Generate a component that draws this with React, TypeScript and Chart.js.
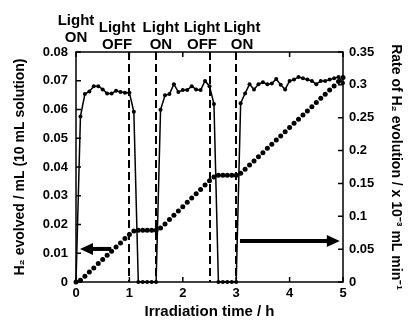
import { useEffect, useRef } from 'react';
import { Chart, registerables } from 'chart.js';

Chart.register(...registerables);

// Irradiation time, minutes
const timeMin = [
  0, 5, 10, 15, 20, 25, 30, 35, 40, 45, 50, 55, 60, 65, 70, 75, 80, 85, 90, 95,
  100, 105, 110, 115, 120, 125, 130, 135, 140, 145, 150, 155, 160, 165, 170, 175, 180, 185, 190, 195,
  200, 205, 210, 215, 220, 225, 230, 235, 240, 245, 250, 255, 260, 265, 270, 275, 280, 285, 290, 295, 300,
];

// Rate of H2 evolution / x10^-3 mL min^-1 (right axis)
const rateValues = [
  0, 0.252, 0.286, 0.29, 0.298, 0.298, 0.293, 0.287, 0.287, 0.291, 0.289, 0.288, 0.288, 0.259,
  0, 0, 0, 0, 0,
  0.262, 0.284, 0.286, 0.301, 0.289, 0.292, 0.292, 0.298, 0.293, 0.292, 0.306, 0.298, 0.271,
  0, 0, 0, 0, 0,
  0.272, 0.287, 0.301, 0.293, 0.301, 0.304, 0.301, 0.302, 0.309, 0.3, 0.293, 0.306, 0.308, 0.312,
  0.31, 0.308, 0.306, 0.301, 0.306, 0.306, 0.308, 0.31, 0.312, 0.303,
];

// H2 evolved / mL (left axis)
const evolvedValues = [
  0, 0.0006, 0.002, 0.0035, 0.0049, 0.0064, 0.0078, 0.0093, 0.0107, 0.0122, 0.0136, 0.0151, 0.0165, 0.0177,
  0.018, 0.018, 0.018, 0.018, 0.018,
  0.0188, 0.0202, 0.0217, 0.0232, 0.0247, 0.0262, 0.0277, 0.0292, 0.0307, 0.0322, 0.0337, 0.0352, 0.0365,
  0.0371, 0.0371, 0.0371, 0.0371, 0.0371,
  0.0378, 0.0392, 0.0407, 0.0421, 0.0436, 0.045, 0.0465, 0.0479, 0.0494, 0.0508, 0.0523, 0.0537, 0.0552, 0.0566,
  0.0581, 0.0595, 0.061, 0.0624, 0.0639, 0.0653, 0.0668, 0.0682, 0.0697, 0.0711,
];

const switchTimes = [1, 1.5, 2.5, 3];
const xTicks = [0, 1, 2, 3, 4, 5];
const leftTicks = [0, 0.01, 0.02, 0.03, 0.04, 0.05, 0.06, 0.07, 0.08];
const rightTicks = [0, 0.05, 0.1, 0.15, 0.2, 0.25, 0.3, 0.35];
const lightLabels = [
  ['Light', 'ON'],
  ['Light', 'OFF'],
  ['Light', 'ON'],
  ['Light', 'OFF'],
  ['Light', 'ON'],
];
const lightLabelTimes = [0, 0.77, 1.59, 2.36, 3.11];
// arrows: [tail time, tip time, left-axis value]
const leftArrow = [0.66, 0.075, 0.0115];
const rightArrow = [3.07, 4.94, 0.0143];

const FAMILY = 'Arial, "Liberation Sans", Helvetica, sans-serif';

function drawArrow(ctx: CanvasRenderingContext2D, x1: number, x2: number, y: number) {
  const dir = x2 > x1 ? 1 : -1;
  const headLen = 13;
  const half = 6;
  ctx.save();
  ctx.strokeStyle = '#000';
  ctx.fillStyle = '#000';
  ctx.lineWidth = 4;
  ctx.setLineDash([]);
  ctx.beginPath();
  ctx.moveTo(x1, y);
  ctx.lineTo(x2 - dir * (headLen - 1), y);
  ctx.stroke();
  ctx.beginPath();
  ctx.moveTo(x2, y);
  ctx.lineTo(x2 - dir * headLen, y - half);
  ctx.lineTo(x2 - dir * headLen, y + half);
  ctx.closePath();
  ctx.fill();
  ctx.restore();
}

const decor = {
  id: 'decor',
  beforeDatasetsDraw(chart: any) {
    const ctx = chart.ctx as CanvasRenderingContext2D;
    const { top, bottom } = chart.chartArea;
    const xs = chart.scales.x;
    ctx.save();
    ctx.strokeStyle = '#000';
    ctx.lineWidth = 2;
    ctx.setLineDash([8, 4]);
    ctx.beginPath();
    switchTimes.forEach((t) => {
      const x = Math.round(xs.getPixelForValue(t));
      ctx.moveTo(x, top);
      ctx.lineTo(x, bottom);
    });
    ctx.stroke();
    ctx.restore();
  },
  afterDraw(chart: any) {
    const ctx = chart.ctx as CanvasRenderingContext2D;
    const { left, right, top, bottom } = chart.chartArea;
    const xs = chart.scales.x;
    const yl = chart.scales.y;
    const yr = chart.scales.y1;
    ctx.save();
    ctx.strokeStyle = '#000';
    ctx.lineWidth = 1.5;
    ctx.setLineDash([]);
    ctx.strokeRect(left, top, right - left, bottom - top);
    ctx.beginPath();
    leftTicks.forEach((v) => {
      const y = yl.getPixelForValue(v);
      ctx.moveTo(left, y);
      ctx.lineTo(left + 5, y);
    });
    rightTicks.forEach((v) => {
      const y = yr.getPixelForValue(v);
      ctx.moveTo(right, y);
      ctx.lineTo(right - 5, y);
    });
    xTicks.forEach((v) => {
      const x = xs.getPixelForValue(v);
      ctx.moveTo(x, bottom);
      ctx.lineTo(x, bottom - 5);
      ctx.moveTo(x, top);
      ctx.lineTo(x, top + 5);
    });
    ctx.stroke();

    drawArrow(ctx, xs.getPixelForValue(leftArrow[0]), xs.getPixelForValue(leftArrow[1]), yl.getPixelForValue(leftArrow[2]));
    drawArrow(ctx, xs.getPixelForValue(rightArrow[0]), xs.getPixelForValue(rightArrow[1]), yl.getPixelForValue(rightArrow[2]));

    ctx.fillStyle = '#000';
    ctx.font = 'bold 15px ' + FAMILY;
    ctx.textAlign = 'center';
    ctx.textBaseline = 'alphabetic';
    lightLabels.forEach((lines, i) => {
      const x = xs.getPixelForValue(lightLabelTimes[i]);
      const base = i === 0 ? top - 27 : top - 20.5;
      ctx.fillText(lines[0], x, base);
      ctx.fillText(lines[1], x, base + 17);
    });
    ctx.restore();
  },
};

export default function App() {
  const ref = useRef<HTMLCanvasElement>(null);
  useEffect(() => {
    document.body.style.margin = '0';
    const canvas = ref.current;
    if (!canvas) return;
    const tickFont = { family: FAMILY, size: 13, weight: 'bold' as const };
    const titleFont = { family: FAMILY, size: 14, weight: 'bold' as const };
    const chart = new Chart(canvas, {
      type: 'line',
      data: {
        datasets: [
          {
            label: 'Rate of H2 evolution',
            data: timeMin.map((m, i) => ({ x: m / 60, y: rateValues[i] })),
            yAxisID: 'y1',
            borderColor: '#000',
            backgroundColor: '#000',
            borderWidth: 1.5,
            pointRadius: 2,
            pointBorderWidth: 0,
            pointBackgroundColor: '#000',
            tension: 0,
            clip: false as any,
          },
          {
            label: 'H2 evolved',
            data: timeMin.map((m, i) => ({ x: m / 60, y: evolvedValues[i] })),
            yAxisID: 'y',
            showLine: false,
            borderColor: '#000',
            backgroundColor: '#000',
            pointRadius: 2.5,
            pointBorderWidth: 0,
            pointBackgroundColor: '#000',
            clip: false as any,
          },
        ],
      },
      options: {
        animation: false,
        responsive: false,
        maintainAspectRatio: false,
        layout: { padding: { top: 52, left: 0, right: 0, bottom: 0 } },
        plugins: { legend: { display: false }, tooltip: { enabled: false } },
        scales: {
          x: {
            type: 'linear',
            position: 'bottom',
            min: 0,
            max: 5,
            afterBuildTicks: (s: any) => {
              s.ticks = xTicks.map((v) => ({ value: v }));
            },
            afterFit: (s: any) => {
              s.height = 39;
            },
            grid: { display: false, drawTicks: false },
            border: { display: false },
            ticks: {
              font: tickFont,
              color: '#000',
              padding: 4,
              maxRotation: 0,
              autoSkip: false,
              callback: (v: any) => String(v),
            },
            title: {
              display: true,
              text: 'Irradiation time / h',
              font: { family: FAMILY, size: 15, weight: 'bold' as const },
              color: '#000',
              padding: { top: 0, bottom: 0 },
            },
          },
          y: {
            type: 'linear',
            position: 'left',
            min: 0,
            max: 0.08,
            afterBuildTicks: (s: any) => {
              s.ticks = leftTicks.map((v) => ({ value: v }));
            },
            afterFit: (s: any) => {
              s.width = 76;
            },
            grid: { display: false, drawTicks: false },
            border: { display: false },
            ticks: {
              font: tickFont,
              color: '#000',
              padding: 8,
              autoSkip: false,
              callback: (v: any) => String(v),
            },
            title: {
              display: true,
              text: 'H₂ evolved / mL (10 mL solution)',
              font: titleFont,
              color: '#000',
              padding: { top: 11.6, bottom: 0 },
            },
          },
          y1: {
            type: 'linear',
            position: 'right',
            min: 0,
            max: 0.35,
            afterBuildTicks: (s: any) => {
              s.ticks = rightTicks.map((v) => ({ value: v }));
            },
            afterFit: (s: any) => {
              s.width = 68;
            },
            grid: { display: false, drawTicks: false },
            border: { display: false },
            ticks: {
              font: tickFont,
              color: '#000',
              padding: 6,
              autoSkip: false,
              callback: (v: any) => String(v),
            },
            title: {
              display: true,
              text: 'Rate of H₂ evolution / x 10⁻³ mL min⁻¹',
              font: titleFont,
              color: '#000',
              padding: { top: 6.6, bottom: 0 },
            },
          },
        },
      },
      plugins: [decor],
    } as any);
    return () => chart.destroy();
  }, []);
  return <canvas ref={ref} width={411} height={321} style={{ display: 'block' }} />;
}
